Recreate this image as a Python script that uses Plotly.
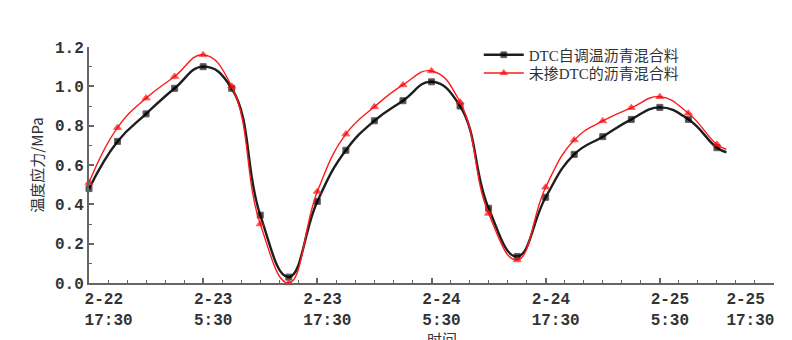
import plotly.graph_objects as go

# hours after 2-22 17:30
hours = [0, 3, 6, 9, 12, 15, 18, 21, 24, 27, 30, 33, 36, 39, 42, 45, 48, 51, 54, 57, 60, 63, 66, 67]
dtc = [0.48, 0.72, 0.86, 0.99, 1.10, 0.99, 0.345, 0.03, 0.415, 0.675, 0.825, 0.927, 1.023,
       0.90, 0.38, 0.135, 0.436, 0.654, 0.744, 0.832, 0.893, 0.832, 0.688, 0.665]
plain = [0.51, 0.79, 0.94, 1.05, 1.16, 1.00, 0.30, 0.0, 0.465, 0.757, 0.896, 1.007, 1.078,
         0.92, 0.354, 0.117, 0.487, 0.727, 0.824, 0.891, 0.947, 0.863, 0.705, 0.68]
series_names = ["DTC自调温沥青混合料", "未掺DTC的沥青混合料"]
x_title = "时间"
y_title = "温度应力/MPa"

tick_hours = [0, 12, 24, 36, 48, 60, 72]
tick_dates = ["2-22", "2-23", "2-23", "2-24", "2-24", "2-25", "2-25"]
tick_times = ["17:30", "5:30", "17:30", "5:30", "17:30", "5:30", "17:30"]

NB = "\u00a0"


def make_label(i, d, t):
    if len(t) > len(d):
        d = d + NB * (len(t) - len(d))
    if i == 0:
        d = NB * 2 + d
        t = NB * 2 + t
    if i == len(tick_dates) - 1:
        d += NB * 7
        t += NB * 7
    return d + "<br>" + t


tick_text = [make_label(i, d, t) for i, (d, t) in enumerate(zip(tick_dates, tick_times))]

marker_sizes_black = [6] * (len(hours) - 1) + [0]
marker_sizes_red = [7] * (len(hours) - 1) + [0]

fig = go.Figure()
fig.add_trace(go.Scatter(
    x=hours, y=dtc, name=series_names[0], mode="lines+markers",
    line=dict(color="#1e1e1e", width=2.4, shape="spline", smoothing=1.3),
    marker=dict(symbol="square", size=marker_sizes_black, color="#000000"),
    cliponaxis=False, legend="legend", showlegend=True,
))
fig.add_trace(go.Scatter(
    x=hours, y=plain, name=series_names[1], mode="lines+markers",
    line=dict(color="#ff1a1a", width=1.4, shape="spline", smoothing=1.3),
    marker=dict(symbol="triangle-up", size=marker_sizes_red, color="#ff0000"),
    cliponaxis=False, legend="legend2", showlegend=True,
))

tick_font = dict(family="Liberation Mono, DejaVu Sans Mono, monospace", size=16, color="#333333", weight="bold")
axis_color = "#666666"
legend_font = dict(size=15, family="Liberation Serif, Noto Sans CJK SC", color="#333333")

fig.update_layout(
    width=792, height=340,
    margin=dict(l=89, r=18, t=47, b=57, autoexpand=False),
    paper_bgcolor="white", plot_bgcolor="white",
    showlegend=True,
    font=dict(family="Noto Sans CJK SC", color="#333333"),
    legend=dict(x=0.569, y=0.966, xanchor="left", yanchor="middle",
                bgcolor="rgba(0,0,0,0)", font=legend_font, itemwidth=40),
    legend2=dict(x=0.569, y=0.889, xanchor="left", yanchor="middle",
                 bgcolor="rgba(0,0,0,0)", font=legend_font, itemwidth=40),
    xaxis=dict(
        range=[0, 72], tickmode="array", tickvals=tick_hours, ticktext=tick_text,
        showline=True, linecolor=axis_color, linewidth=2, showgrid=False, zeroline=False,
        ticks="inside", ticklen=5, tickwidth=1.5, tickcolor=axis_color,
        tickfont=tick_font, ticklabelshift=10, automargin=False, ticklabeloverflow="allow",
        minor=dict(tickmode="linear", tick0=0, dtick=2, ticks="inside", ticklen=3, tickwidth=1.2, tickcolor=axis_color),
    ),
    yaxis=dict(
        range=[0, 1.2], tickmode="linear", tick0=0, dtick=0.2, tickformat=".1f",
        showline=True, linecolor=axis_color, linewidth=2, showgrid=False, zeroline=False,
        ticks="inside", ticklen=5, tickwidth=1.5, tickcolor=axis_color,
        tickfont=tick_font, automargin=False,
        minor=dict(tickmode="linear", tick0=0, dtick=0.1, ticks="inside", ticklen=3, tickwidth=1.2, tickcolor=axis_color),
        title=dict(text=y_title, font=dict(size=15, family="Noto Sans CJK SC", color="#333333"), standoff=8),
    ),
    annotations=[dict(
        text=x_title, xref="paper", yref="paper", x=0.515, y=-0.184,
        xanchor="center", yanchor="top", showarrow=False,
        font=dict(size=15, family="Noto Sans CJK SC", color="#333333"),
    )],
)

fig.write_html("out.html")
